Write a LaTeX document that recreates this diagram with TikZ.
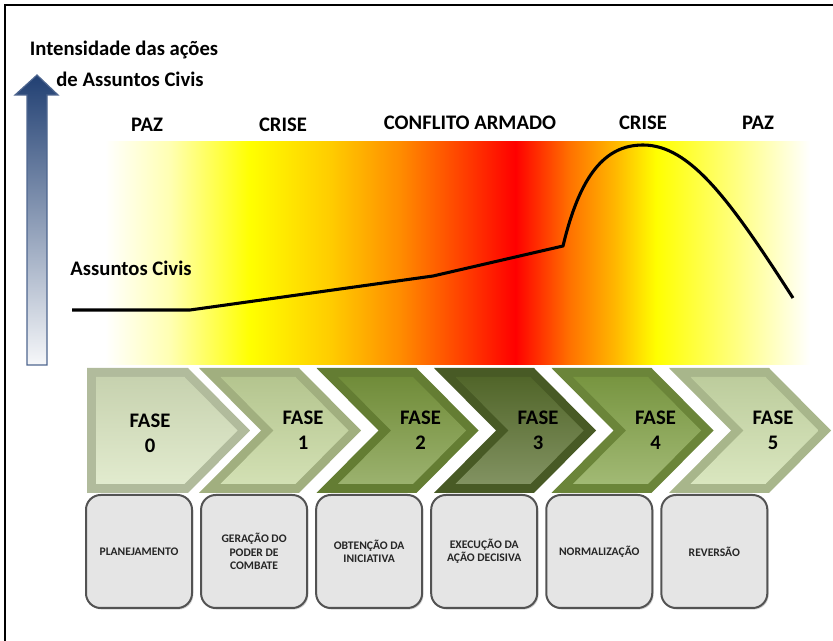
\documentclass[tikz,border=0pt]{standalone}
\usepackage{fontspec}
\setmainfont{Carlito}
\usepackage{tikz}
\usetikzlibrary{positioning, shadows}
\definecolor{navy}{rgb}{0.13, 0.25, 0.45}
\definecolor{fasezero}{RGB}{216,228,190}
\definecolor{faseum}{RGB}{196,214,155}
\definecolor{fasedois}{RGB}{122,152,62}
\definecolor{fasetres}{RGB}{88,110,45}
\definecolor{fasequatro}{RGB}{130,162,70}
\definecolor{fasecinco}{RGB}{205,222,170}
\pgfdeclarehorizontalshading{conflito}{100bp}{rgb(0bp)=(1,1,1); rgb(25bp)=(1,1,1);
  rgb(29.6bp)=(1,1,0.7); rgb(35.3bp)=(1,1,0); rgb(41bp)=(1,0.8,0); rgb(45.9bp)=(1,0.55,0);
  rgb(54.1bp)=(1,0,0); rgb(58bp)=(1,0.45,0); rgb(61.2bp)=(1,0.72,0); rgb(64.1bp)=(1,1,0);
  rgb(69.7bp)=(1,1,0.5); rgb(75bp)=(1,1,1); rgb(100bp)=(1,1,1)}

\begin{document}
\begin{tikzpicture}[x=0.75pt, y=-0.75pt,
                    every node/.style = {text=black, font=\fontsize{15.5}{19}\selectfont\bfseries},
                    fase/.style = {align=center},
                    etapa/.style = {draw=gray!65!black, line width=1.5pt, fill=gray!20,
                                    rounded corners=11pt, minimum width=79.5pt, minimum height=84.75pt,
                                    inner sep=2pt, align=center, text=black!85,
                                    font=\fontsize{8.7}{10}\selectfont\bfseries,
                                    drop shadow={opacity=0.35, shadow xshift=1pt, shadow yshift=-1.2pt}},
                    curva/.style = {line width=2.3pt, line join=round}]
    \useasboundingbox (0,0) rectangle (833,641);
    \draw[line width=1.6pt] (5,641) -- (5,5) -- (833,5);

    % faixa de cores
    \shade[shading=conflito] (105,142) rectangle (810,365);

    % eixo de intensidade
    \shade[top color=navy, bottom color=navy!4, draw=navy!80, line width=0.9pt]
        (27,365) -- (27,95) -- (15,95) -- (37,75) -- (58,95) -- (47,95) -- (47,365) -- cycle;
    \node (eixo1) at (124,50) {Intensidade das ações};
    \node (eixo2) at (130,79) {de Assuntos Civis};

    \node (paz1)     at (147,125) {PAZ};
    \node (crise1)   at (283,125) {CRISE};
    \node (conflito) at (470,123) {CONFLITO ARMADO};
    \node (crise2)   at (643,123) {CRISE};
    \node (paz2)     at (758,123) {PAZ};
    \node (civis)    at (131,268) {Assuntos Civis};

    \draw[curva] (72,310) -- (190,310) -- (433,276) -- (563,246)
        .. controls (580,175) and (605,145) .. (643,145)
        .. controls (690,145) and (730,200) .. (793,298);

    % fases
    \fill[fasezero!82!black] (87,368) -- (188,368) -- (250,430.5) -- (188,493) -- (87,493) -- cycle;
    \shade[top color=fasezero!92!black, bottom color=fasezero!75!white]
        (96,377) -- (184.5,377) -- (237.5,430.5) -- (184.5,484) -- (96,484) -- cycle;
    \node[fase] (fase0) at (150,433) {FASE\\0};
    \foreach \k/\cor in {1/faseum, 2/fasedois, 3/fasetres, 4/fasequatro, 5/fasecinco}{
        \pgfmathsetmacro{\L}{199+117.5*(\k-1)}
        \fill[\cor!82!black] (\L,368) -- (\L+100,368) -- (\L+162,430.5) -- (\L+100,493)
            -- (\L,493) -- (\L+62,430.5) -- cycle;
        \shade[top color=\cor!92!black, bottom color=\cor!75!white]
            (\L+21.5,377) -- (\L+96.5,377) -- (\L+149.5,430.5) -- (\L+96.5,484)
            -- (\L+21.5,484) -- (\L+74.5,430.5) -- cycle;
        \node[fase] (fase\k) at (\L+104,430) {FASE\\\k};
    }

    % etapas
    \node (plan) [etapa] at (139,551.5)  {PLANEJAMENTO};
    \node (gera) [etapa, right=5.3pt of plan] {GERAÇÃO DO\\PODER DE\\COMBATE};
    \node (obte) [etapa, right=5.3pt of gera] {OBTENÇÃO DA\\INICIATIVA};
    \node (exec) [etapa, right=5.3pt of obte] {EXECUÇÃO DA\\AÇÃO DECISIVA};
    \node (norm) [etapa, right=5.3pt of exec] {NORMALIZAÇÃO};
    \node (reve) [etapa, right=5.3pt of norm] {REVERSÃO};
\end{tikzpicture}
\end{document}
